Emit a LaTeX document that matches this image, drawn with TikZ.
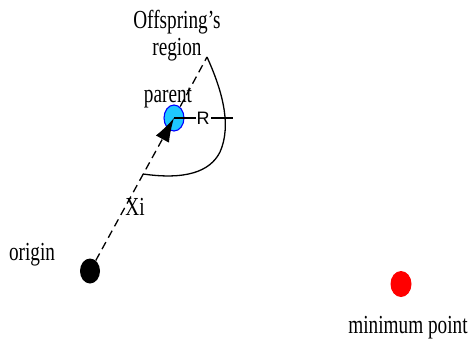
\documentclass[tikz,border=0pt]{standalone}
\usepackage{fontspec}
\setmainfont{Liberation Serif}[FakeStretch=0.74]
\newfontfamily\rfont{Liberation Sans}
\usetikzlibrary{arrows.meta,shapes.geometric}
\definecolor{parentfill}{RGB}{30,200,255}
\begin{document}
\begin{tikzpicture}[x=1pt,y=-1pt,
  lbl/.style={font=\fontsize{26}{30}\selectfont, inner sep=0pt, anchor=base},
  dot/.style={ellipse, minimum width=20pt, minimum height=25pt, inner sep=0pt},
  dash line/.style={line width=1.3pt, dash pattern=on 8pt off 5pt}]
\useasboundingbox (0,0) rectangle (473,340);
% points
\node[dot, fill=black] (origin) at (90,271) {};
\node[dot, fill=red, minimum width=21pt, minimum height=26pt] (minpt) at (401,284) {};
\coordinate (pc) at (174,118);
\coordinate (arcstart) at (207,57);
\coordinate (rend) at (233,118);
% offspring region arc
\draw[line width=1.3pt] (arcstart) .. controls (222,90) and (232,125) .. (220,152)
  .. controls (210,172) and (185,180) .. (143,174);
% dashed direction line
\draw[dash line] (pc) -- (arcstart);
\node[dot, fill=parentfill, draw=blue, line width=1.1pt, minimum height=26pt] (parent) at (pc) {};
\draw[line width=1.3pt] (parent.center) -- (rend);
\node[font=\rfont\fontsize{18}{20}\selectfont, fill=white, inner sep=1pt] (R) at (203,118) {R};
\draw[dash line, -{Latex[length=24pt,width=15pt]}] (origin) -- (parent.center);
% labels
\node[lbl] (offs) at (177,28) {Offspring’s};
\node[lbl] (reg) at (177,55) {region};
\node[lbl] (parentlbl) at (168,102) {parent};
\node[lbl] (xi) at (135,215) {Xi};
\node[lbl] (originlbl) at (32,260) {origin};
\node[lbl] (minlbl) at (408,333) {minimum point};
\end{tikzpicture}
\end{document}
